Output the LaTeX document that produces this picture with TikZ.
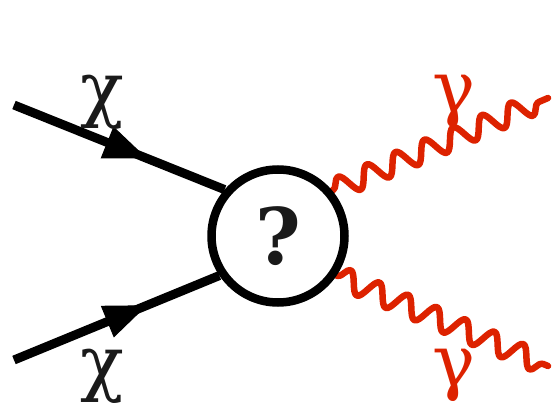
\documentclass[tikz,border=0pt]{standalone}
\usepackage{fontspec}
\setmainfont{DejaVu Serif}
\usetikzlibrary{arrows.meta,decorations.pathmorphing,backgrounds,calc}
\definecolor{phred}{RGB}{221,34,0}
\definecolor{txtdark}{RGB}{26,26,26}
\tikzset{
  fermion/.style={line width=9pt, black},
  fermarrow/.style={line width=1pt, black, -{Triangle[length=43pt,width=34pt]}},
  photon/.style={line width=6.5pt, phred, line join=round, line cap=round,
    decorate, decoration={snake, segment length=31.3pt, amplitude=10.5pt, pre length=1pt, post length=1pt}},
  blobstyle/.style={circle, draw=black, fill=white, line width=8.5pt, minimum size=133pt, inner sep=0pt,
    font=\fontsize{78}{84}\selectfont\bfseries, text=txtdark},
  chilabel/.style={font=\fontsize{72}{80}\selectfont, text=txtdark, inner sep=0pt},
  gamlabel/.style={font=\fontsize{72}{80}\selectfont, text=phred, inner sep=0pt},
}
\begin{document}
\begin{tikzpicture}[x=1pt,y=-1pt]
\useasboundingbox (0,0) rectangle (552,409);
\node[blobstyle] (blob) at (278,236) {?};
\coordinate (chi1) at (14,105);
\coordinate (chi2) at (14,360);
\coordinate (g1) at (548,98);
\coordinate (g2) at (548,366);
\coordinate (tip1) at ($(chi1)!0.6315!(blob.139)$);
\coordinate (tip2) at ($(chi2)!0.648!(blob.214)$);
\begin{pgfonlayer}{background}
\draw[fermion] (chi1) -- (blob.139);
\draw[fermion] (chi2) -- (blob.214);
\draw[fermarrow] (chi1) -- (tip1);
\draw[fermarrow] (chi2) -- (tip2);
\draw[photon] (blob.40) -- (g1);
\draw[photon] (blob.-34) -- (g2);
\end{pgfonlayer}
\node[chilabel] (l1) at (102,102) {χ};
\node[chilabel] (l2) at (102,376) {χ};
\node[gamlabel] (l3) at (454,101) {γ};
\node[gamlabel] (l4) at (454,375) {γ};
\end{tikzpicture}
\end{document}
